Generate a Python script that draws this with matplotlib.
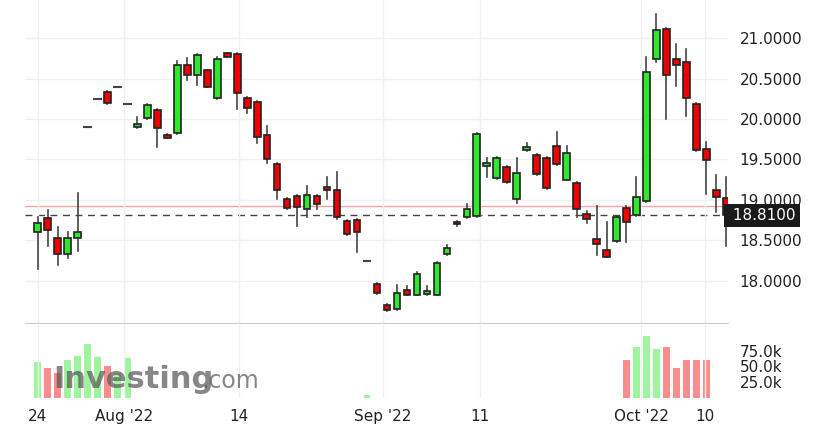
import numpy as np
import matplotlib.pyplot as plt
from matplotlib.patches import Rectangle

# daily OHLC
opens = [18.60, 18.78, 18.53, 18.33, 18.53, 19.90, 20.25, 20.33, 20.40, 20.19,
         19.90, 20.01, 20.11, 19.80, 19.83, 20.67, 20.54, 20.60, 20.26, 20.81,
         20.80, 20.26, 20.21, 19.80, 19.44, 19.01, 19.05, 18.89, 19.05, 19.16,
         19.12, 18.74, 18.75, 18.25, 17.96, 17.70, 17.65, 17.89, 17.83, 17.84,
         17.83, 18.33, 18.73, 18.79, 18.80, 19.42, 19.27, 19.41, 19.01, 19.62,
         19.56, 19.52, 19.67, 19.25, 19.21, 18.83, 18.52, 18.38, 18.49, 18.90,
         18.81, 18.99, 20.74, 21.11, 20.74, 20.70, 20.19, 19.63, 19.12, 19.02]
closes = [18.72, 18.63, 18.33, 18.53, 18.60, 19.90, 20.25, 20.20, 20.40, 20.19,
          19.94, 20.17, 19.89, 19.77, 20.67, 20.54, 20.79, 20.40, 20.74, 20.77,
          20.32, 20.14, 19.78, 19.51, 19.12, 18.90, 18.91, 19.06, 18.95, 19.12,
          18.79, 18.58, 18.60, 18.25, 17.85, 17.64, 17.85, 17.83, 18.09, 17.88,
          18.22, 18.40, 18.70, 18.89, 19.81, 19.45, 19.52, 19.22, 19.33, 19.65,
          19.32, 19.15, 19.44, 19.58, 18.89, 18.77, 18.46, 18.30, 18.79, 18.73,
          19.04, 20.58, 21.10, 20.54, 20.67, 20.26, 19.62, 19.49, 19.04, 18.81]
highs = [18.79, 18.88, 18.67, 18.60, 19.09, 19.90, 20.25, 20.35, 20.40, 20.19,
         20.02, 20.18, 20.12, 19.81, 20.72, 20.75, 20.80, 20.61, 20.77, 20.82,
         20.81, 20.27, 20.22, 19.91, 19.45, 19.02, 19.06, 19.17, 19.06, 19.28,
         19.35, 18.75, 18.76, 18.25, 17.97, 17.71, 17.95, 17.93, 18.11, 17.93,
         18.23, 18.44, 18.74, 18.95, 19.83, 19.52, 19.53, 19.42, 19.52, 19.70,
         19.57, 19.53, 19.84, 19.66, 19.22, 18.86, 18.93, 18.73, 18.80, 18.92,
         19.28, 20.77, 21.30, 21.12, 20.93, 20.86, 20.20, 19.72, 19.31, 19.28]
lows = [18.14, 18.43, 18.20, 18.28, 18.37, 19.90, 20.25, 20.19, 20.40, 20.19,
        19.89, 20.00, 19.65, 19.76, 19.82, 20.48, 20.42, 20.39, 20.25, 20.76,
        20.12, 20.07, 19.70, 19.46, 19.01, 18.89, 18.68, 18.79, 18.89, 19.01,
        18.77, 18.57, 18.36, 18.25, 17.84, 17.63, 17.64, 17.82, 17.82, 17.83,
        17.82, 18.32, 18.68, 18.78, 18.79, 19.28, 19.26, 19.21, 18.96, 19.60,
        19.31, 19.14, 19.43, 19.24, 18.79, 18.72, 18.32, 18.29, 18.48, 18.48,
        18.80, 18.98, 20.70, 20.00, 20.41, 20.04, 19.61, 19.07, 18.85, 18.43]
# volume in thousands (zero where no bar is drawn)
volumes = [57, 47, 40, 60, 67, 85, 65, 50, 40, 63] + [0] * 23 + [5] + [0] * 25 + \
          [60, 80, 98, 77, 80, 47, 60, 60, 60, 0, 0]

tick_pos = [0, 8.7, 20.2, 34.6, 44.3, 60.5, 66.9]
tick_labels = ["24", "Aug '22", "14", "Sep '22", "11", "Oct '22", "10"]
last_price = 18.81
prev_close = 18.93

green = "#2ee82e"
red = "#f20000"

fig = plt.figure(figsize=(8.22, 4.46), dpi=100)
ax = fig.add_axes([0.03, 0.276, 0.856, 0.724])
axv = fig.add_axes([0.03, 0.108, 0.856, 0.164])

n = len(opens)
x = np.arange(n)
for i in range(n):
    o, c, h, l = opens[i], closes[i], highs[i], lows[i]
    col = green if c >= o else red
    ax.plot([i, i], [l, h], color="#444444", lw=1.2, zorder=2)
    lo, hi = min(o, c), max(o, c)
    if hi - lo < 0.02:
        ax.plot([i - 0.35, i + 0.35], [o, o], color="#444444", lw=1.5, zorder=3)
    else:
        ax.add_patch(Rectangle((i - 0.33, lo), 0.66, hi - lo, facecolor=col,
                               edgecolor="#222222", lw=1.2, zorder=3))

ax.axhline(prev_close, color="#f4a6a6", lw=1, zorder=1)
ax.axhline(last_price, color="#444444", lw=1, ls=(0, (5, 4)), zorder=1)

ax.set_xlim(-1.3, 69.2)
ax.set_ylim(17.48, 21.47)
ax.yaxis.tick_right()
ax.set_yticks([18.0, 18.5, 19.0, 19.5, 20.0, 20.5, 21.0])
ax.set_yticklabels([f"{v:.4f}" for v in [18.0, 18.5, 19.0, 19.5, 20.0, 20.5, 21.0]])
ax.tick_params(axis="y", length=0, labelsize=11, pad=8, colors="#222222")
ax.set_xticks(tick_pos)
ax.tick_params(axis="x", length=0, labelbottom=False)
ax.grid(True, color="#f0f0f0", lw=1)
for s in ["top", "left", "right"]:
    ax.spines[s].set_visible(False)
ax.spines["bottom"].set_color("#cccccc")
ax.text(1.0, last_price, " 18.8100", transform=ax.get_yaxis_transform(),
        va="center", ha="left", fontsize=11, color="white",
        bbox=dict(facecolor="#1a1a1a", edgecolor="none", pad=3))

vcols = []
for i in range(n):
    vcols.append(green if closes[i] >= opens[i] else red)
axv.bar(x, volumes, width=0.7, color=vcols, alpha=0.45)
axv.set_xlim(-1.3, 69.2)
axv.set_ylim(0, 116)
axv.yaxis.tick_right()
axv.set_yticks([25, 50, 75])
axv.set_yticklabels(["25.0k", "50.0k", "75.0k"])
axv.tick_params(axis="y", length=0, labelsize=11, pad=8, colors="#222222")
axv.set_xticks(tick_pos)
axv.set_xticklabels(tick_labels)
axv.tick_params(axis="x", length=0, labelsize=11, colors="#222222", pad=8)
axv.grid(True, axis="x", color="#f0f0f0", lw=1)
for s in ["top", "left", "right", "bottom"]:
    axv.spines[s].set_visible(False)

# watermark
fig.text(0.065, 0.13, "Investing", fontsize=22, fontweight="bold",
         color="#555555", alpha=0.7)
fig.text(0.245, 0.13, ".com", fontsize=17, color="#555555", alpha=0.7)

fig.savefig("out.png", dpi=100)
